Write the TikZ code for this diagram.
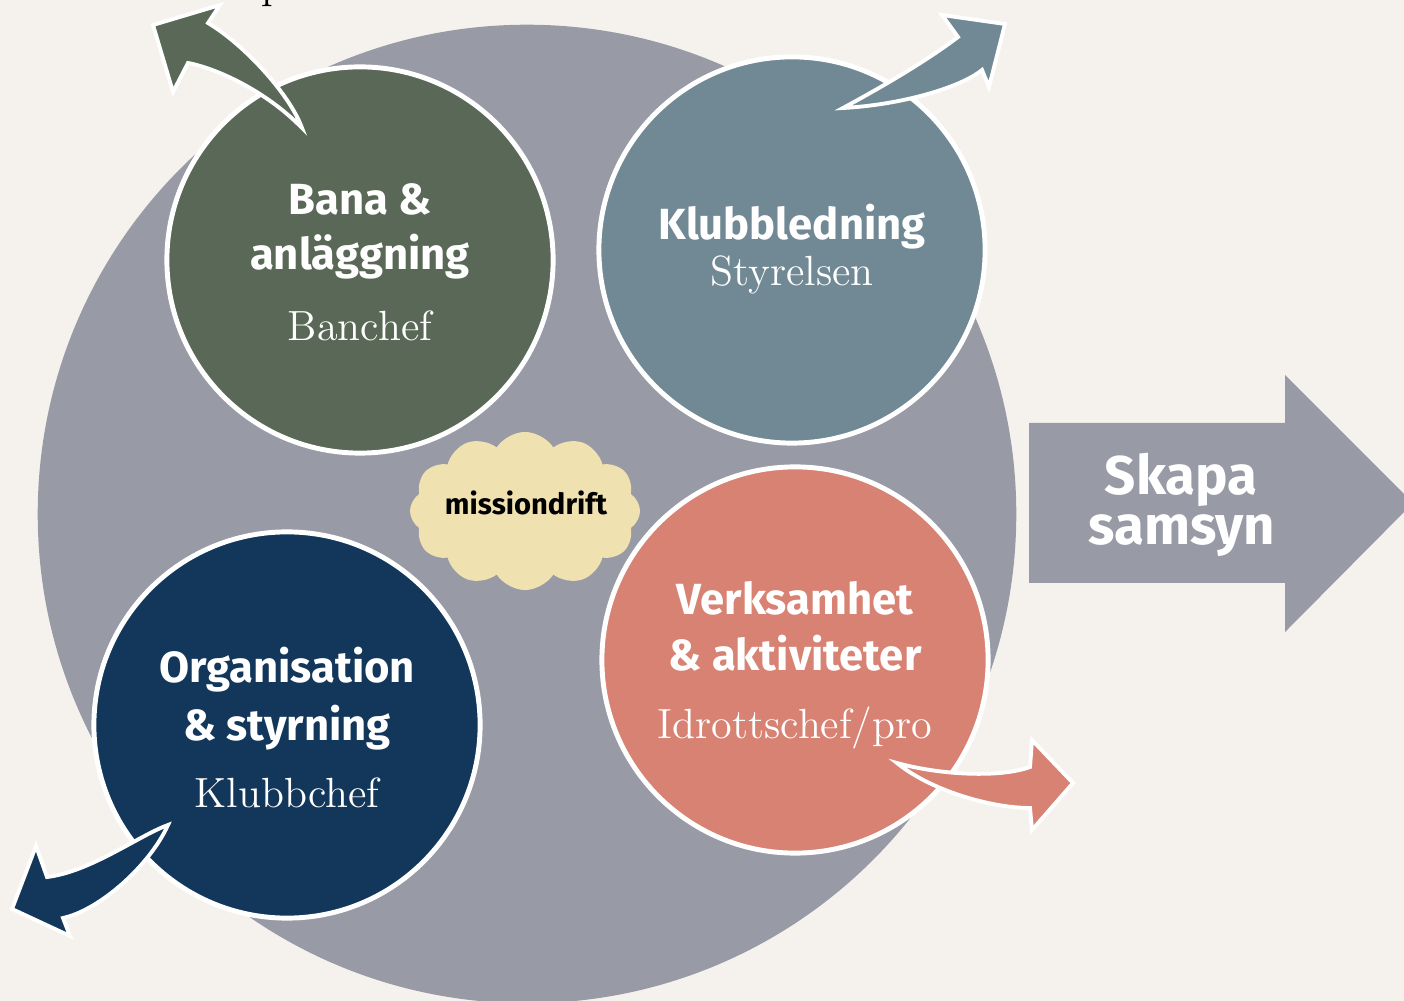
\documentclass[tikz,border=0pt]{standalone}
\usepackage{fontspec}
\usepackage{xcolor}
\usepackage{tikz}
\usetikzlibrary{shapes.geometric, shapes.symbols, positioning}
\newfontfamily\headfont{Fira Sans}
\definecolor{bgbeige}{HTML}{F5F2EE}
\definecolor{ringgray}{HTML}{989BA6}
\definecolor{mossgreen}{HTML}{5A6957}
\definecolor{slateblue}{HTML}{718995}
\definecolor{navyblue}{HTML}{12375B}
\definecolor{salmon}{HTML}{D88273}
\definecolor{cream}{HTML}{F0E1B0}

\begin{document}
\begin{tikzpicture}[x=0.01cm, y=-0.01cm]
    \tikzstyle{theme} = [circle, minimum size=3.86cm, inner sep=0pt, draw=white, line width=1.4pt]
    \tikzstyle{headtext} = [anchor=base, inner sep=0pt, text=white, font=\headfont\bfseries\fontsize{12.4}{15}\selectfont]
    \tikzstyle{roletext} = [anchor=base, inner sep=0pt, text=white, font=\fontsize{12}{14}\selectfont]
    \tikzstyle{bendarrow} = [draw=white, line width=1.1pt, line join=miter]

    \useasboundingbox (0,0) rectangle (1404,1001);
    \fill[bgbeige] (0,0) rectangle (1404,1001);

    % cut-off heading above the picture
    \node (toptext) [anchor=base, inner sep=0pt, font=\fontsize{12}{14}\selectfont] at (273,-1) {p};

    \node (ring) [circle, fill=ringgray, minimum size=9.78cm, inner sep=0pt] at (527,514) {};

    % Skapa samsyn
    \fill[ringgray] (1029,423) -- (1285,423) -- (1285,375) -- (1413,503) -- (1285,632) -- (1285,583) -- (1029,583) -- cycle;
    \node (skapa) [headtext, font=\headfont\bfseries\fontsize{15.5}{18}\selectfont] at (1181,495) {Skapa};
    \node (samsyn) [headtext, font=\headfont\bfseries\fontsize{15.5}{18}\selectfont] at (1182,545) {samsyn};

    % the four areas
    \node (bana) [theme, fill=mossgreen] at (360,260) {};
    \node (klubb) [theme, fill=slateblue] at (792,250) {};
    \node (org) [theme, fill=navyblue] at (287,725) {};
    \node (verk) [theme, fill=salmon] at (795,660) {};

    \node (mission) [cloud, cloud puffs=12, cloud puff arc=115, aspect=1.45, fill=cream, minimum width=2.3cm, minimum height=1.58cm, inner sep=0pt] at (525,511) {};
    \node (mission-text) [anchor=base, inner sep=0pt, font=\headfont\bfseries\fontsize{8.3}{10}\selectfont] at (526,515) {missiondrift};

    % bent arrows out of each area
    \filldraw[bendarrow, fill=mossgreen] (302,128) .. controls (290,95) and (245,45) .. (208,23) -- (220,5) -- (153,25) -- (173,92) -- (188,63) .. controls (215,68) and (265,90) .. (302,128) -- cycle;
    \filldraw[bendarrow, fill=slateblue] (843,108) .. controls (880,88) and (925,62) .. (958,37) -- (942,15) -- (1005,24) -- (989,87) -- (982,70) .. controls (960,88) and (900,105) .. (843,108) -- cycle;
    \filldraw[bendarrow, fill=salmon] (897,763) .. controls (940,775) and (1000,778) .. (1030,767) -- (1032,740) -- (1073,783) -- (1032,830) -- (1030,808) .. controls (990,808) and (930,790) .. (897,763) -- cycle;
    \filldraw[bendarrow, fill=navyblue] (168,825) .. controls (140,835) and (90,872) .. (47,877) -- (36,846) -- (12,909) -- (70,936) -- (63,918) .. controls (100,910) and (150,865) .. (168,825) -- cycle;

    \node (bana-t1) [headtext] at ([yshift=0.45cm]bana.center) {Bana \&};
    \node (bana-t2) [headtext] at ([yshift=-0.10cm]bana.center) {anläggning};
    \node (bana-role) [roletext] at ([yshift=-0.80cm]bana.center) {Banchef};

    \node (klubb-t1) [headtext] at ([yshift=0.10cm]klubb.center) {Klubbledning};
    \node (klubb-role) [roletext] at ([yshift=-0.35cm]klubb.center) {Styrelsen};

    \node (org-t1) [headtext] at ([yshift=0.42cm]org.center) {Organisation};
    \node (org-t2) [headtext] at ([yshift=-0.15cm]org.center) {\& styrning};
    \node (org-role) [roletext] at ([yshift=-0.82cm]org.center) {Klubbchef};

    \node (verk-t1) [headtext] at ([yshift=0.45cm]verk.center) {Verksamhet};
    \node (verk-t2) [headtext] at ([yshift=-0.10cm]verk.center) {\& aktiviteter};
    \node (verk-role) [roletext] at ([yshift=-0.78cm]verk.center) {Idrottschef/pro};
\end{tikzpicture}
\end{document}
